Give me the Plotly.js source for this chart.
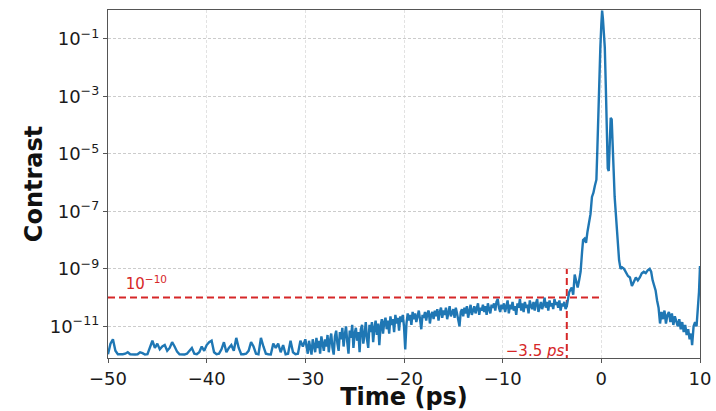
<!DOCTYPE html>
<html>
<head>
<meta charset="utf-8">
<script src="https://cdn.plot.ly/plotly-3.0.1.min.js"></script>
<style>
  html, body { margin: 0; padding: 0; background: #ffffff; }
  #chart { width: 716px; height: 411px; }
</style>
</head>
<body>
<div id="chart"></div>
<script>
// Time axis (ps)
const time = [
  -50,-49.75,-49.5,-49.25,-49,-48.75,-48.5,-48.25,-48,-47.75,-47.5,-47.25,-47,-46.75,-46.5,-46.25,-46,-45.75,-45.5,-45.25,
  -45,-44.75,-44.5,-44.25,-44,-43.75,-43.5,-43.25,-43,-42.75,-42.5,-42.25,-42,-41.75,-41.5,-41.25,-41,-40.75,-40.5,-40.25,
  -40,-39.75,-39.5,-39.25,-39,-38.75,-38.5,-38.25,-38,-37.75,-37.5,-37.25,-37,-36.75,-36.5,-36.25,-36,-35.75,-35.5,-35.25,
  -35,-34.75,-34.5,-34.25,-34,-33.75,-33.5,-33.25,-33,-32.75,-32.5,-32.25,-32,-31.75,-31.5,-31.25,-31,-30.75,-30.5,-30.25,
  -30,
  -29.875,-29.75,-29.625,-29.5,-29.375,-29.25,-29.125,-29,
  -28.875,-28.75,-28.625,-28.5,-28.375,-28.25,-28.125,-28,
  -27.875,-27.75,-27.625,-27.5,-27.375,-27.25,-27.125,-27,
  -26.875,-26.75,-26.625,-26.5,-26.375,-26.25,-26.125,-26,
  -25.875,-25.75,-25.625,-25.5,-25.375,-25.25,-25.125,-25,
  -24.875,-24.75,-24.625,-24.5,-24.375,-24.25,-24.125,-24,
  -23.875,-23.75,-23.625,-23.5,-23.375,-23.25,-23.125,-23,
  -22.875,-22.75,-22.625,-22.5,-22.375,-22.25,-22.125,-22,
  -21.875,-21.75,-21.625,-21.5,-21.375,-21.25,-21.125,-21,
  -20.875,-20.75,-20.625,-20.5,-20.375,-20.25,-20.125,-20,
  -19.875,-19.75,-19.625,-19.5,-19.375,-19.25,-19.125,-19,
  -18.875,-18.75,-18.625,-18.5,-18.375,-18.25,-18.125,-18,
  -17.875,-17.75,-17.625,-17.5,-17.375,-17.25,-17.125,-17,
  -16.875,-16.75,-16.625,-16.5,-16.375,-16.25,-16.125,-16,
  -15.875,-15.75,-15.625,-15.5,-15.375,-15.25,-15.125,-15,
  -14.875,-14.75,-14.625,-14.5,-14.375,-14.25,-14.125,-14,
  -13.875,-13.75,-13.625,-13.5,-13.375,-13.25,-13.125,-13,
  -12.875,-12.75,-12.625,-12.5,-12.375,-12.25,-12.125,-12,
  -11.875,-11.75,-11.625,-11.5,-11.375,-11.25,-11.125,-11,
  -10.875,-10.75,-10.625,-10.5,-10.375,-10.25,-10.125,-10,
  -9.875,-9.75,-9.625,-9.5,-9.375,-9.25,-9.125,-9,
  -8.875,-8.75,-8.625,-8.5,-8.375,-8.25,-8.125,-8,
  -7.875,-7.75,-7.625,-7.5,-7.375,-7.25,-7.125,-7,
  -6.875,-6.75,-6.625,-6.5,-6.375,-6.25,-6.125,-6,
  -5.875,-5.75,-5.625,-5.5,-5.375,-5.25,-5.125,-5,
  -4.875,-4.75,-4.625,-4.5,-4.375,-4.25,-4.125,-4,
  -3.875,-3.75,-3.625,-3.5,
  -3.25,-3,-2.85,-2.7,-2.55,-2.4,-2.25,-2.1,-1.95,-1.85,-1.7,-1.55,-1.4,
  -1.25,-1.1,-0.95,-0.8,-0.65,-0.5,-0.4,-0.3,-0.2,-0.1,0,0.08,0.16,0.25,0.35,0.45,0.55,0.65,0.75,0.85,
  0.95,1.05,1.15,1.25,1.35,1.5,1.65,1.8,1.95,2.1,2.3,2.5,2.7,2.9,3.1,3.3,3.5,3.7,3.9,4.1,
  4.3,4.5,4.7,4.9,5.05,5.2,5.35,5.5,5.65,5.8,5.95,6.1,6.25,6.4,6.55,6.7,6.85,7,7.15,7.3,
  7.45,7.6,7.75,7.9,8.05,8.2,8.35,8.5,8.65,8.8,8.95,9.1,9.2,9.35,9.5,9.65,9.8,9.9,10
];

// log10 of contrast
const logContrast = [
  -11.97,-11.6,-11.45,-11.85,-11.97,-11.98,-11.97,-11.95,-11.9,-11.97,-11.98,-11.98,-11.97,-11.9,-11.93,-11.98,-11.97,-11.7,-11.5,-11.75,
  -11.6,-11.8,-11.7,-11.65,-11.85,-11.75,-11.55,-11.7,-11.88,-11.97,-11.97,-11.98,-11.95,-11.85,-11.75,-11.95,-11.97,-11.9,-11.7,-11.85,
  -11.65,-11.55,-11.5,-11.9,-11.97,-11.95,-11.8,-11.55,-11.9,-11.75,-11.65,-11.85,-11.4,-11.75,-11.97,-11.97,-11.95,-11.85,-11.55,-11.7,
  -11.95,-11.97,-11.4,-11.7,-11.95,-11.97,-11.98,-11.6,-11.75,-11.6,-11.9,-11.65,-11.97,-11.95,-11.5,-11.9,-11.97,-11.95,-11.5,-11.7,
  -11.45,
  -11.7,-11.95,-11.5,-11.8,-11.98,-11.45,-11.7,-11.9,
  -11.4,-11.75,-11.5,-11.95,-11.35,-11.6,-11.85,-11.45,
  -11.7,-11.3,-11.9,-11.5,-11.25,-11.75,-11.98,-11.35,
  -11.15,-11.6,-11.85,-11.2,-11.45,-11.05,-11.7,-11.3,
  -11.0,-11.55,-11.95,-11.15,-11.4,-10.95,-11.75,-11.25,
  -11.05,-11.5,-11.2,-11.9,-11.1,-10.95,-11.6,-11.3,
  -10.85,-11.45,-11.75,-10.95,-11.2,-10.85,-11.55,-11.05,
  -10.8,-11.3,-10.9,-11.65,-11.0,-10.75,-11.25,-10.85,
  -10.7,-11.1,-10.8,-11.25,-10.65,-10.95,-10.75,-11.2,
  -10.6,-10.9,-10.7,-11.15,-10.65,-10.85,-10.6,-11.0,
  -11.8,-10.9,-10.55,-10.8,-10.6,-10.95,-10.5,-10.75,
  -10.55,-10.85,-10.6,-10.45,-10.75,-11.1,-10.6,-10.7,
  -10.5,-10.8,-10.55,-10.45,-10.9,-10.6,-10.5,-10.75,
  -10.45,-10.65,-10.4,-10.8,-10.5,-10.35,-10.7,-10.45,
  -10.6,-10.35,-10.75,-10.45,-10.3,-10.65,-10.5,-10.4,
  -10.7,-10.35,-10.55,-10.85,-11.0,-10.5,-10.4,-10.65,
  -10.35,-10.55,-10.3,-10.7,-10.4,-10.25,-10.6,-10.45,
  -10.3,-10.55,-10.35,-10.2,-10.6,-10.35,-10.45,-10.25,
  -10.5,-10.3,-10.6,-10.2,-10.4,-10.55,-10.25,-10.35,
  -10.2,-10.45,-10.15,-10.05,-10.35,-10.5,-10.25,-10.4,
  -10.2,-10.5,-10.3,-10.1,-10.55,-10.25,-10.4,-10.15,
  -10.45,-10.3,-10.6,-10.2,-10.35,-10.05,-10.45,-10.2,
  -10.5,-10.15,-10.35,-10.25,-10.55,-10.1,-10.3,-10.4,
  -10.15,-10.45,-10.2,-10.05,-10.5,-10.3,-10.15,-10.4,
  -10.25,-10.0,-10.35,-10.15,-10.45,-10.1,-10.3,-10.2,
  -10.4,-10.05,-10.25,-10.15,-10.35,-10.1,-10.45,-10.2,
  -10.3,-10.15,-10.4,-10.3,
  -9.8,-9.65,-9.9,-9.2,-9.5,-9.65,-9.4,-9.1,-8.4,-8.0,-7.95,-8.1,-7.7,
  -7.35,-7.1,-6.5,-6.35,-6.1,-5.9,-4.8,-3.4,-2.6,-1.3,-0.5,-0.02,-0.3,-0.8,-1.3,-2.6,-4.5,-5.5,-5.6,-4.2,
  -3.75,-3.8,-4.5,-5.6,-6.5,-7.3,-8.1,-8.7,-9.0,-8.95,-9.0,-9.15,-9.25,-9.3,-9.6,-9.45,-9.3,-9.4,-9.3,-9.15,
  -9.1,-9.15,-9.05,-9.0,-9.1,-9.4,-9.6,-9.75,-10.1,-10.35,-10.9,-10.5,-10.75,-10.45,-10.9,-10.6,-10.5,-10.85,-10.55,-10.95,
  -10.65,-10.8,-11.0,-10.75,-11.1,-10.85,-11.2,-10.95,-11.3,-11.1,-11.45,-11.25,-11.65,-11.0,-10.85,-11.0,-10.4,-9.8,-8.9
];
const contrast = logContrast.map(v => Math.pow(10, v));

// Reference markers
const thresholdTime = [-50, 0];
const thresholdLevel = [1e-10, 1e-10];
const cutTime = [-3.5, -3.5];
const cutLevel = [1e-13, 1e-9];

const xTickVals = [-50, -40, -30, -20, -10, 0, 10];
const xTickText = ['−50', '−40', '−30', '−20', '−10', '0', '10'];
const yTickVals = [1e-11, 1e-9, 1e-7, 1e-5, 1e-3, 1e-1];
const yTickText = ['10<sup>−11</sup>', '10<sup>−9</sup>', '10<sup>−7</sup>', '10<sup>−5</sup>', '10<sup>−3</sup>', '10<sup>−1</sup>'];

const red = '#d62728';
const font = 'DejaVu Sans, Liberation Sans, sans-serif';

const traces = [
  {
    x: thresholdTime, y: thresholdLevel, mode: 'lines', type: 'scatter',
    line: { color: red, width: 2, dash: '7px,4px' }, hoverinfo: 'skip', showlegend: false
  },
  {
    x: cutTime, y: cutLevel, mode: 'lines', type: 'scatter',
    line: { color: red, width: 2, dash: '7px,4px' }, hoverinfo: 'skip', showlegend: false
  },
  {
    x: time, y: contrast, mode: 'lines', type: 'scatter',
    line: { color: '#1f77b4', width: 2.4 }, showlegend: false
  },
  {
    x: [-48.2], y: [2.6e-10], mode: 'text', type: 'scatter',
    text: ['10<sup>−10</sup>'], textposition: 'middle right',
    textfont: { family: font, size: 15, color: red }, hoverinfo: 'skip', showlegend: false, cliponaxis: false
  },
  {
    x: [-3.75], y: [1.3e-12], mode: 'text', type: 'scatter',
    text: ['−3.5 <i>ps</i>'], textposition: 'middle left',
    textfont: { family: font, size: 15, color: red }, hoverinfo: 'skip', showlegend: false, cliponaxis: false
  }
];

const layout = {
  width: 716, height: 411,
  margin: { l: 108, r: 16, t: 10, b: 53 },
  paper_bgcolor: '#ffffff', plot_bgcolor: '#ffffff',
  font: { family: font, color: '#1a1a1a' },
  xaxis: {
    range: [-50, 10], tickvals: xTickVals, ticktext: xTickText,
    showgrid: true, gridcolor: '#e2e2e2', griddash: '3px,2px', gridwidth: 1,
    zeroline: false, showline: true, linecolor: '#555555', linewidth: 1.2, mirror: true,
    ticks: 'outside', ticklen: 4, tickcolor: '#555555',
    tickfont: { family: font, size: 18, color: '#1a1a1a' },
    title: { text: '<b>Time (ps)</b>', font: { family: font, size: 24, color: '#111111' }, standoff: 9 }
  },
  yaxis: {
    type: 'log', range: [-12.1, 0], tickvals: yTickVals, ticktext: yTickText,
    showgrid: true, gridcolor: '#cccccc', griddash: '3px,2px', gridwidth: 1,
    zeroline: false, showline: true, linecolor: '#555555', linewidth: 1.2, mirror: true,
    ticks: 'outside', ticklen: 4, tickcolor: '#555555',
    tickfont: { family: font, size: 18, color: '#1a1a1a' },
    title: { text: '<b>Contrast</b>', font: { family: font, size: 24, color: '#111111' }, standoff: 0 }
  }
};

Plotly.newPlot('chart', traces, layout, { displayModeBar: false, staticPlot: true });
</script>
</body>
</html>
